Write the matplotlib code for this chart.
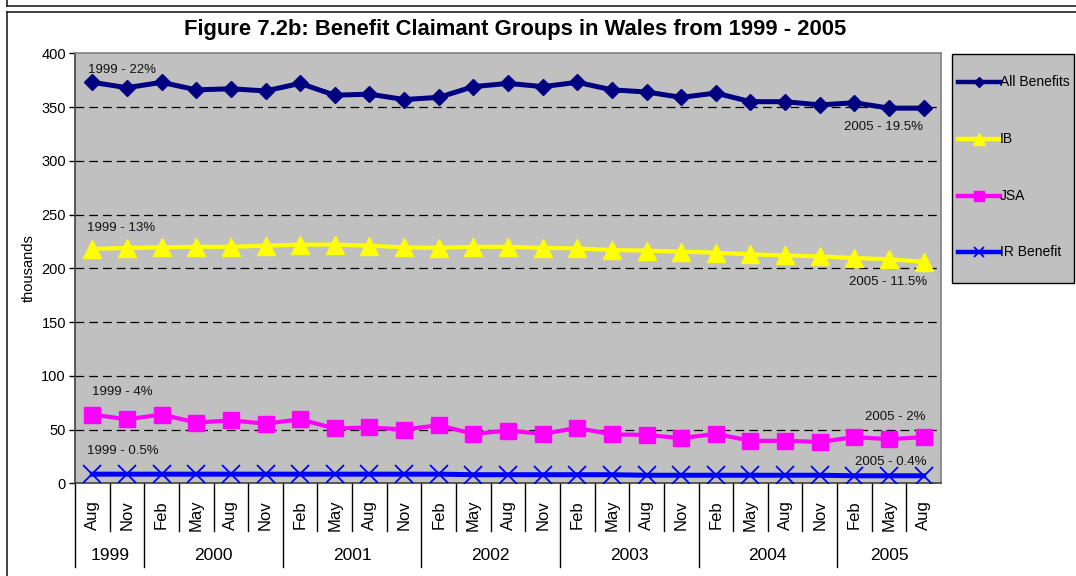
import matplotlib
matplotlib.use("Agg")
import matplotlib.pyplot as plt
import matplotlib.transforms as mtransforms
from matplotlib.lines import Line2D
from matplotlib.patches import Rectangle

plt.rcParams['font.family'] = ['Liberation Sans', 'DejaVu Sans']

# quarterly data, Aug 1999 - Aug 2005 (thousands)
months = ["Aug", "Nov",
          "Feb", "May", "Aug", "Nov",
          "Feb", "May", "Aug", "Nov",
          "Feb", "May", "Aug", "Nov",
          "Feb", "May", "Aug", "Nov",
          "Feb", "May", "Aug", "Nov",
          "Feb", "May", "Aug"]
years = ["1999", "2000", "2001", "2002", "2003", "2004", "2005"]
months_per_year = [2, 4, 4, 4, 4, 4, 3]

all_benefits = [373, 368, 373, 366, 367, 365, 372, 361, 362, 357, 359, 369, 372,
                369, 373, 366, 364, 359, 363, 355, 355, 352, 354, 349, 349]
ib = [218, 219, 219.5, 220, 220, 221, 222, 222, 221, 219.5, 219, 220, 220,
      219, 218.5, 217, 216.5, 215.5, 214.5, 213, 212, 211, 209.5, 208.5, 206]
jsa = [64, 59.5, 64, 56.5, 58.5, 55.5, 59.5, 51, 52, 50, 54, 46, 49,
       46, 51.5, 45.5, 45, 42, 46, 39.5, 39.5, 38.5, 43, 41, 43]
ir_benefit = [8.5, 8.5, 8.5, 8.5, 8.5, 8.5, 8.5, 8.5, 8.5, 8.5, 8.5, 8, 8,
              8, 8, 8, 7.5, 7.5, 7.5, 7.5, 7.5, 7.5, 7, 7, 7]

# (text, x, y, ha)
notes = [("1999 - 22%", -0.13, 384.5, "left"),
         ("2005 - 19.5%", 23.99, 331, "right"),
         ("1999 - 13%", -0.16, 237.5, "left"),
         ("2005 - 11.5%", 24.09, 187.5, "right"),
         ("1999 - 4%", 0.0, 85.2, "left"),
         ("2005 - 2%", 24.04, 62, "right"),
         ("1999 - 0.5%", -0.14, 30.3, "left"),
         ("2005 - 0.4%", 24.07, 20.1, "right")]

W, H = 1076, 576
fig = plt.figure(figsize=(W / 100, H / 100), dpi=100)
fig.patch.set_facecolor("white")

def fx(x):
    return x / W

def fy(y):
    return 1 - y / H

# outer frames
def fig_line(xs, ys, lw=1.2):
    fig.add_artist(Line2D([fx(x) for x in xs], [fy(y) for y in ys],
                          transform=fig.transFigure, color="#222222", lw=lw))

fig_line([7, 7], [0, 6])
fig_line([7, W], [6, 6])
fig_line([7, W], [12, 12])
fig_line([7, 7], [12, H])

left, right, top, bottom = 75, 941, 53.3, 483.3
ax = fig.add_axes([fx(left), fy(bottom), (right - left) / W, (bottom - top) / H])
ax.set_facecolor("#C0C0C0")

x = list(range(len(months)))

styles = [
    dict(color="#000080", lw=3.6, marker="D", ms=8, mec="#000080"),
    dict(color="#FFFF00", lw=3.0, marker="^", ms=13, mec="#FFFF00"),
    dict(color="#FF00FF", lw=3.0, marker="s", ms=12, mec="#FF00FF"),
    dict(color="#0000FF", lw=3.6, marker="x", ms=13, mew=1.3),
]
series = [all_benefits, ib, jsa, ir_benefit]
labels = ["All Benefits", "IB", "JSA", "IR Benefit"]
for vals, st, z in zip(series, styles, [5, 4, 4, 4]):
    ax.plot(x, vals, zorder=z, **st)

ax.set_xlim(-0.5, len(months) - 0.5)
ax.set_ylim(0, 400)
ax.set_yticks(range(0, 401, 50))
ax.tick_params(axis="y", direction="out", length=4.5, width=1, labelsize=10.5, pad=2)
ax.set_xticks([])

for yv in range(50, 400, 50):
    ax.axhline(yv, color="black", lw=0.9, ls=(0, (7, 4)), zorder=1)

for side in ["top", "right"]:
    ax.spines[side].set_color("#808080")
    ax.spines[side].set_linewidth(1.2)
for side in ["left", "bottom"]:
    ax.spines[side].set_color("#404040")
    ax.spines[side].set_linewidth(1.2)

ax.set_ylabel("thousands", fontsize=10.5, labelpad=4)

for txt, tx, ty, ha in notes:
    ax.text(tx, ty, txt, ha=ha, va="center", fontsize=9.5, color="#111111", zorder=6)

# two-level category axis
trans = mtransforms.blended_transform_factory(ax.transData, ax.transAxes)
px = 1 / (bottom - top)
for i, m in enumerate(months):
    ax.text(i, -(515 - bottom) * px, m, rotation=90, ha="center", va="center",
            fontsize=12, transform=trans)

boundaries = []
pos = 0
for n in months_per_year:
    boundaries.append(pos)
    pos += n
for i in range(len(months)):
    edge = i - 0.5
    depth = 567 if i in boundaries else 531
    ax.plot([edge, edge], [0, -(depth - bottom) * px], color="black", lw=1,
            transform=trans, clip_on=False)

pos = 0
for yr, n in zip(years, months_per_year):
    ax.text(pos + (n - 1) / 2, -(555 - bottom) * px, yr, ha="center", va="center",
            fontsize=12.5, transform=trans)
    pos += n

fig.text(fx(515.5), fy(30),
         "Figure 7.2b: Benefit Claimant Groups in Wales from 1999 - 2005",
         ha="center", va="center", fontsize=15.8, fontweight="bold")

# legend box drawn by hand to match the original layout
fig.add_artist(Rectangle((fx(952), fy(283)), fx(1074) - fx(952), fy(54) - fy(283),
                         transform=fig.transFigure, facecolor="#C0C0C0",
                         edgecolor="black", lw=1))
leg_ms = [5.5, 8, 7, 7]
for lab, st, ly, ms in zip(labels, styles, [82, 139, 196, 252], leg_ms):
    kw = dict(st)
    kw["ms"] = ms
    kw["lw"] = 3.2
    fig.add_artist(Line2D([fx(958), fx(1000)], [fy(ly), fy(ly)],
                          transform=fig.transFigure, **kw, markevery=[]))
    fig.add_artist(Line2D([fx(979)], [fy(ly)], transform=fig.transFigure,
                          **dict(kw, lw=0)))
    fig.text(fx(1000), fy(ly), lab, ha="left", va="center", fontsize=10)

fig.savefig("out.png", dpi=100)
